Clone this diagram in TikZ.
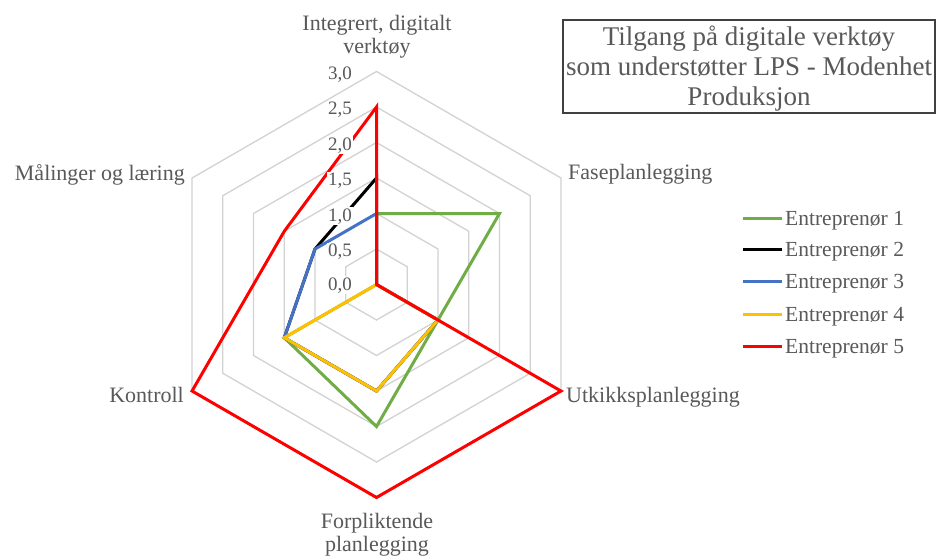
\documentclass[tikz,border=0pt]{standalone}
\usepackage{fontspec}
\setmainfont{Liberation Serif}
\usetikzlibrary{calc}
\definecolor{txtgrey}{RGB}{89,89,89}
\definecolor{gridgrey}{RGB}{210,210,210}
\definecolor{eone}{RGB}{112,173,71}
\definecolor{etwo}{RGB}{0,0,0}
\definecolor{ethree}{RGB}{68,114,196}
\definecolor{efour}{RGB}{255,192,0}
\definecolor{efive}{RGB}{255,0,0}
\newcommand\radarpoly[7]{%
  \draw[#1] (90:{#2*71}) -- (30:{#3*71}) -- (-30:{#4*71}) -- (-90:{#5*71})
    -- (210:{#6*71}) -- (150:{#7*71}) -- cycle;}
\begin{document}
\begin{tikzpicture}[x=1pt,y=1pt,
  gridline/.style={draw=gridgrey,line width=1.3pt},
  series/.style={line width=3pt,line join=miter},
  sone/.style={series,draw=eone},
  stwo/.style={series,draw=etwo},
  sthree/.style={series,draw=ethree},
  sfour/.style={series,draw=efour},
  sfive/.style={series,draw=efive},
  ticklbl/.style={anchor=base east,fill=white,inner sep=1pt,text=txtgrey,
    font=\fontsize{19pt}{20pt}\selectfont},
  catlbl/.style={inner sep=0pt,text=txtgrey,align=center,
    font=\fontsize{22pt}{23pt}\selectfont},
  leglbl/.style={anchor=base west,inner sep=0pt,text=txtgrey,
    font=\fontsize{21.5pt}{23pt}\selectfont},
  titlebox/.style={draw=black!75,line width=1.4pt},
  titletext/.style={inner sep=0pt,text=txtgrey,align=center,
    font=\fontsize{27pt}{30pt}\selectfont}]
\useasboundingbox[fill=white] (0,0) rectangle (937,-555);
\begin{scope}[shift={(376.5,-284.5)}]
  \foreach \v in {0.5,1,1.5,2,2.5,3}{
    \draw[gridline] (90:{\v*71}) -- (30:{\v*71}) -- (-30:{\v*71}) -- (-90:{\v*71})
      -- (210:{\v*71}) -- (150:{\v*71}) -- cycle;}
  \radarpoly{sone}{1}{2}{1}{2}{1.5}{0}
  \radarpoly{stwo}{1.5}{0}{1}{1.5}{1.5}{1}
  \radarpoly{sthree}{1}{0}{1}{1.5}{1.5}{1}
  \radarpoly{sfour}{0}{0}{1}{1.5}{1.5}{0}
  \radarpoly{sfive}{2.5}{0}{3}{3}{3}{1.5}
\end{scope}
% tick labels
\node[ticklbl] (t0) at (353,-290) {0,0};
\node[ticklbl] (t1) at (353,-256.5) {0,5};
\node[ticklbl] (t2) at (353,-221) {1,0};
\node[ticklbl] (t3) at (353,-185.5) {1,5};
\node[ticklbl] (t4) at (353,-150) {2,0};
\node[ticklbl] (t5) at (353,-114.5) {2,5};
\node[ticklbl] (t6) at (353,-79) {3,0};
% category labels
\node[catlbl] (ctop) at (377,-36.5) {Integrert, digitalt\\verktøy};
\node[catlbl,anchor=base west] (cfase) at (568,-179) {Faseplanlegging};
\node[catlbl,anchor=base west] (cutk) at (566,-402) {Utkikksplanlegging};
\node[catlbl] (cforp) at (377,-534.5) {Forpliktende\\planlegging};
\node[catlbl,anchor=base east] (ckon) at (184,-402) {Kontroll};
\node[catlbl,anchor=base east] (cmal) at (185,-180) {Målinger og læring};
% legend
\foreach \s/\c/\y/\n in {sone/eone/218/1,stwo/etwo/249.5/2,sthree/ethree/281/3,sfour/efour/314/4,sfive/efive/346/5}{
  \coordinate (la\n) at (743,-\y);
  \coordinate (lb\n) at (782,-\y);
  \draw[\s,line cap=butt] (la\n) -- (lb\n);
  \node[leglbl] (lt\n) at (785,-\y-7) {Entreprenør \n};
}
% title
\draw[titlebox] (563,-20) rectangle (935,-113);
\node[titletext] (title) at (749,-68.8) {Tilgang på digitale verktøy\\som understøtter LPS - Modenhet\\Produksjon};
\end{tikzpicture}
\end{document}
